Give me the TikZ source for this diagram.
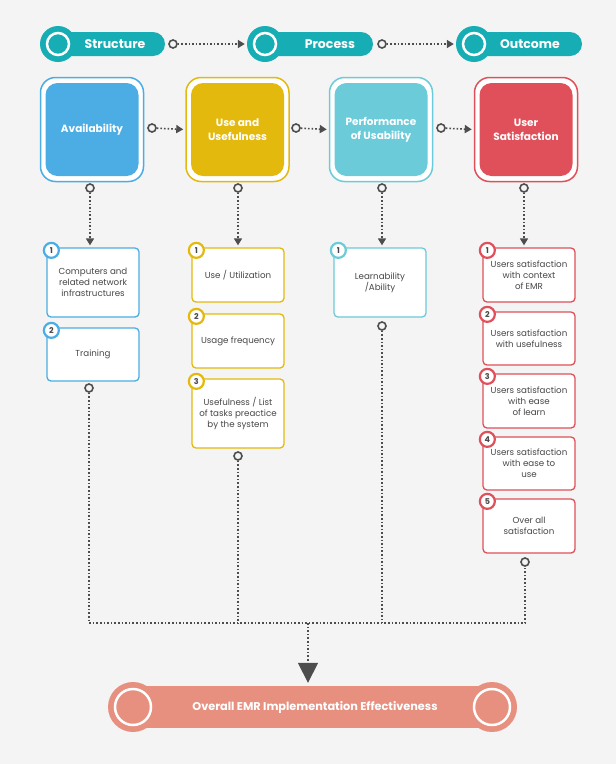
\documentclass[tikz,border=0pt]{standalone}
\usepackage{fontspec}
\setmainfont{Poppins}
\usetikzlibrary{arrows.meta}
\definecolor{bg}{HTML}{F4F4F4}
\definecolor{hdteal}{HTML}{17ADB4}
\definecolor{cblue}{HTML}{4BADE3}
\definecolor{cyellow}{HTML}{E4B90D}
\definecolor{ccyan}{HTML}{6CCBD9}
\definecolor{cred}{HTML}{E0505A}
\definecolor{salmon}{HTML}{E8907F}
\definecolor{arrgray}{HTML}{4D4D4D}
\definecolor{txtgray}{HTML}{474747}
\begin{document}
\begin{tikzpicture}[x=1pt,y=-1pt,
  dotc/.style={circle,draw=arrgray,fill=bg,line width=1.6pt,inner sep=0pt,minimum size=8pt},
  conn/.style={arrgray,line width=1.6pt,dotted,-{Triangle[length=7pt,width=8pt]},shorten >=2pt},
  link/.style={arrgray,line width=1.6pt,dotted},
  pill/.style={fill=hdteal,rounded corners=12pt,minimum width=#1,minimum height=24pt,inner sep=0pt},
  hcirc/.style={circle,fill=#1,minimum size=36pt,inner sep=0pt},
  htext/.style={text=white,font=\fontsize{12.5}{14}\selectfont\bfseries},
  bigbox/.style={draw=#1,line width=1.5pt,fill=white,rounded corners=15pt,minimum width=103pt,minimum height=104pt},
  bigfill/.style={fill=#1,rounded corners=12pt,minimum width=93pt,minimum height=93pt,text=white,align=center,font=\fontsize{10.5}{14}\selectfont\bfseries},
  item/.style={draw=#1,line width=1.3pt,fill=white,rounded corners=4pt,minimum width=92pt,align=center,text=txtgray,font=\fontsize{8.7}{11}\selectfont},
  num/.style={circle,draw=#1,line width=2.2pt,fill=white,minimum size=15pt,inner sep=0pt,xshift=5pt,yshift=-3pt,text=txtgray,font=\fontsize{8}{9}\selectfont\bfseries}]
\fill[bg] (0,0) rectangle (616,764);
\useasboundingbox (0,0) rectangle (616,764);

% headers
\node[pill=107pt] (pS) at (111.5,44) {};
\node[pill=108pt] (pP) at (319,44) {};
\node[pill=108pt] (pO) at (528,44) {};
\node[hcirc=hdteal] (hS) at (58,44) {};
\node[hcirc=hdteal] (hP) at (265,44) {};
\node[hcirc=hdteal] (hO) at (474,44) {};
\foreach \h in {hS,hP,hO}
  \draw[white,line width=2.5pt] (\h) circle (11);
\node[htext] at (115,44) {Structure};
\node[htext] at (330,44) {Process};
\node[htext] at (530,44) {Outcome};
\node[dotc] (d1) at (173,44) {};
\node[dotc] (d2) at (382,44) {};
\draw[conn] (d1) -- (hP.west);
\draw[conn] (d2) -- (hO.west);

% main boxes
\node[bigbox=cblue] (bA) at (92,129.5) {};
\node[bigbox=cyellow] (bU) at (237.5,129.5) {};
\node[bigbox=ccyan] (bP) at (381,129.5) {};
\node[bigbox=cred] (bS) at (526,129.5) {};
\node[bigfill=cblue] at (bA) {Availability};
\node[bigfill=cyellow] at (bU) {Use and\\Usefulness};
\node[bigfill=ccyan] at (bP) {Performance\\of Usability};
\node[bigfill=cred] at (bS) {User\\Satisfaction};
\node[dotc] (m1) at (152,128) {};
\node[dotc] (m2) at (296,128) {};
\node[dotc] (m3) at (441,128) {};
\draw[conn] (m1) -- (bU.west);
\draw[conn] (m2) -- (bP.west);
\draw[conn] (m3) -- (bS.west);
\node[dotc] (e1) at (90,188) {};
\node[dotc] (e2) at (238,188) {};
\node[dotc] (e3) at (382,188) {};
\node[dotc] (e4) at (524,188) {};

% items
\node[item=cblue,minimum height=69pt] (a1) at (93,282.5) {Computers and\\related network\\infrastructures};
\node[item=cblue,minimum height=53pt] (a2) at (93,354.5) {Training};
\node[item=cyellow,minimum height=54pt] (u1) at (238,275) {Use / Utilization};
\node[item=cyellow,minimum height=54pt] (u2) at (238,341) {Usage frequency};
\node[item=cyellow,minimum height=69pt] (u3) at (238,413.5) {Usefulness / List\\of tasks preactice\\by the system};
\node[item=ccyan,minimum height=69pt] (p1) at (380,282.5) {Learnability\\/Ability};
\node[item=cred,minimum height=54pt] (s1) at (529,275) {Users satisfaction\\with context\\of EMR};
\node[item=cred,minimum height=53pt] (s2) at (529,338.5) {Users satisfaction\\with usefulness};
\node[item=cred,minimum height=54pt] (s3) at (529,401) {Users satisfaction\\with ease\\of learn};
\node[item=cred,minimum height=53pt] (s4) at (529,463.5) {Users satisfaction\\with ease to\\use};
\node[item=cred,minimum height=54pt] (s5) at (529,526) {Over all\\satisfaction};
\draw[conn] (e1) -- (a1.north -| e1);
\draw[conn] (e2) -- (u1.north -| e2);
\draw[conn] (e3) -- (p1.north -| e3);
\draw[conn] (e4) -- (s1.north -| e4);
\node[num=cblue] at (a1.north west) {1};
\node[num=cblue] at (a2.north west) {2};
\node[num=cyellow] at (u1.north west) {1};
\node[num=cyellow] at (u2.north west) {2};
\node[num=cyellow] at (u3.north west) {3};
\node[num=ccyan] at (p1.north west) {1};
\foreach \s/\n in {s1/1,s2/2,s3/3,s4/4,s5/5}
  \node[num=cred] at (\s.north west) {\n};

% joining lines
\node[dotc] (g1) at (89,388) {};
\node[dotc] (g2) at (238,456) {};
\node[dotc] (g3) at (382,326) {};
\node[dotc] (g4) at (525,562) {};
\coordinate (mid) at (308,623);
\draw[link] (g1) |- (mid) -| (g4);
\draw[link] (g2) -- (g2 |- mid);
\draw[link] (g3) -- (g3 |- mid);

% result
\node[fill=salmon,minimum width=350pt,minimum height=42pt,inner sep=0pt] (ban) at (312.5,707) {};
\node[hcirc=salmon,minimum size=50pt] (bl) at (133,707) {};
\node[hcirc=salmon,minimum size=50pt] (br) at (492,707) {};
\draw[white,line width=2.5pt] (bl) circle (18);
\draw[white,line width=2.5pt] (br) circle (18);
\node[text=white,font=\fontsize{11.3}{13}\selectfont\bfseries] at (315,707) {Overall EMR Implementation Effectiveness};
\draw[arrgray,line width=1.6pt,dotted,-{Triangle[length=20pt,width=20pt]},shorten >=3pt] (mid) -- (ban.north -| mid);
\end{tikzpicture}
\end{document}
